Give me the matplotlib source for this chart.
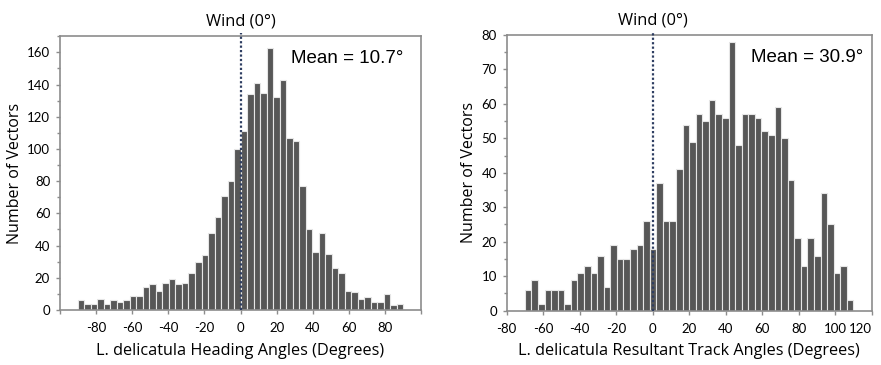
import numpy as np
import matplotlib
matplotlib.use("Agg")
import matplotlib.pyplot as plt
from matplotlib.ticker import MultipleLocator

# heading angles, 50 bins of 3.6 deg from -90 to 90
heading_counts = [6, 4, 4, 7, 4, 6, 5, 6, 9, 9, 14, 16, 12, 17, 19, 16, 17, 23, 30, 34,
                  48, 58, 71, 80, 100, 111, 134, 141, 135, 163, 132, 143, 107, 105, 77,
                  50, 36, 48, 35, 26, 23, 12, 11, 7, 8, 5, 5, 10, 3, 4]
heading_start = -90

# resultant track angles, 50 bins of 3.6 deg from -70 to 110
track_counts = [6, 9, 2, 6, 6, 6, 2, 9, 11, 13, 11, 16, 7, 19, 15, 15, 18, 19, 26, 18,
                37, 26, 26, 41, 54, 49, 57, 55, 61, 57, 56, 78, 48, 57, 57, 56, 52, 51,
                59, 50, 38, 21, 13, 21, 16, 34, 25, 11, 13, 3]
track_start = -70
bin_width = 3.6

heading_mean = 10.7
track_mean = 30.9

tick_font = "Lato"
bar_col = "#575757"
spine_col = "#8c8c8c"

fig = plt.figure(figsize=(8.81, 3.65), dpi=100)
ax1 = fig.add_axes([0.068, 0.1507, 0.410, 0.750])
ax2 = fig.add_axes([0.575, 0.149, 0.4145, 0.755])


def draw_hist(ax, counts, start, xlim, ylim, xmajor, ymajor, yminor, xlabel, mean, xlabels_at, mean_x):
    lefts = start + bin_width * np.arange(len(counts))
    ax.bar(lefts, counts, width=bin_width, align="edge", color=bar_col,
           edgecolor="#e6e6e6", linewidth=0.8, zorder=2)
    ax.set_xlim(*xlim)
    ax.set_ylim(*ylim)
    ticks = np.arange(xlim[0], xlim[1] + 1, xmajor)
    ax.set_xticks(ticks)
    labs = ax.set_xticklabels([str(int(t)) if t in xlabels_at else "" for t in ticks],
                              fontfamily=tick_font, fontsize=9.5)
    # last label kept inside the figure like the original
    labs[-1].set_horizontalalignment("right")
    ax.yaxis.set_major_locator(MultipleLocator(ymajor))
    ax.yaxis.set_minor_locator(MultipleLocator(yminor))
    for lab in ax.get_yticklabels():
        lab.set_fontfamily(tick_font)
        lab.set_fontsize(9.5)
    ax.tick_params(axis="both", which="both", direction="out", color=spine_col,
                   length=3, width=1, pad=4)
    ax.tick_params(axis="x", pad=6)
    ax.tick_params(axis="y", which="minor", length=2)
    for s in ax.spines.values():
        s.set_color(spine_col)
        s.set_linewidth(1.2)
    ax.axvline(0, ymin=0, ymax=1.012, color="#2e3e62", linestyle=(0, (1, 1)),
               linewidth=1.6, clip_on=False, zorder=3)
    ax.annotate("Wind (0°)", xy=(0, ylim[1]), xycoords="data",
                xytext=(0, 5), textcoords="offset points", ha="center", va="bottom",
                fontfamily="Open Sans", fontsize=11.8)
    ax.text(mean_x, 0.92, "Mean = %.1f°" % mean,
            transform=ax.transAxes, ha="right", va="center",
            fontfamily="Liberation Sans", fontsize=13.5)
    ax.set_xlabel(xlabel, fontfamily="Open Sans", fontsize=11.7, labelpad=6)
    ax.set_ylabel("Number of Vectors", fontfamily="Open Sans", fontsize=11.5, labelpad=3)


draw_hist(ax1, heading_counts, heading_start, (-100, 100), (0, 170), 20, 20, 10,
          "L. delicatula Heading Angles (Degrees)", heading_mean,
          list(range(-80, 81, 20)), 0.952)
draw_hist(ax2, track_counts, track_start, (-80, 120), (0, 80), 20, 10, 5,
          "L. delicatula Resultant Track Angles (Degrees)", track_mean,
          list(range(-80, 121, 20)), 0.976)

fig.savefig("out.png", dpi=100)
